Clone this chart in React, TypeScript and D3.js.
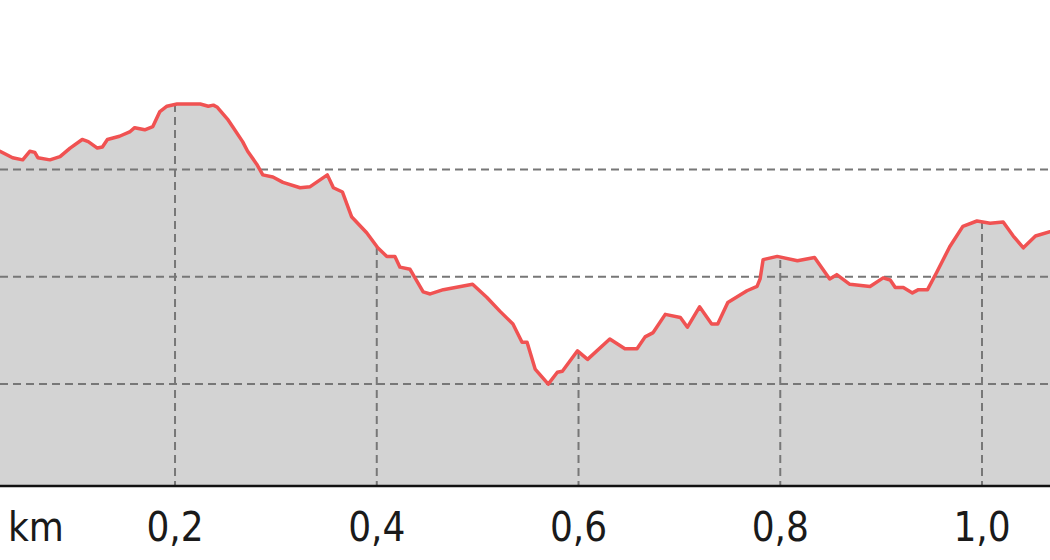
import React from "react";
import * as d3 from "d3";

// distance along route (m)
const distances = [
  26.5, 39, 49, 56, 61, 64, 76, 86, 96, 108, 114, 123, 128, 133, 145, 155, 160, 170, 178, 185,
  192, 202, 225, 233, 238, 242, 252, 257, 267, 272, 281, 287, 297, 307, 324, 334, 351, 357, 366, 375,
  390, 401, 410, 418, 423, 433, 446, 453, 466, 495, 509, 522, 535, 544, 549, 557, 570, 579, 584, 599,
  609, 631, 646, 658, 666, 674, 686, 701, 708, 720, 732, 738, 748, 767, 777, 780, 783, 797, 817, 834,
  849, 856, 869, 889, 902, 909, 914, 922, 931, 937, 946, 955, 968, 981, 995, 1008, 1021, 1031, 1041, 1053,
  1067.4,
];

// elevation (m)
const elevations = [
  441.7, 441.1, 440.9, 441.7, 441.6, 441.1, 440.9, 441.2, 442.0, 442.8, 442.6, 442.0, 442.1, 442.8, 443.1, 443.5, 443.9, 443.7, 444.0, 445.4,
  445.9, 446.1, 446.1, 445.9, 446.0, 445.8, 444.7, 444.0, 442.6, 441.7, 440.5, 439.5, 439.3, 438.8, 438.3, 438.4, 439.5, 438.3, 437.9, 435.6,
  434.1, 432.7, 431.9, 431.9, 430.9, 430.7, 428.6, 428.4, 428.8, 429.3, 428.1, 426.8, 425.6, 423.9, 423.9, 421.4, 420.0, 421.1, 421.2, 423.1,
  422.3, 424.2, 423.3, 423.3, 424.4, 424.8, 426.5, 426.2, 425.3, 427.2, 425.6, 425.6, 427.6, 428.7, 429.1, 429.8, 431.6, 431.9, 431.5, 431.8,
  429.8, 430.2, 429.3, 429.1, 429.9, 429.7, 429.0, 429.0, 428.5, 428.8, 428.8, 430.4, 432.8, 434.7, 435.2, 435.0, 435.1, 433.8, 432.7, 433.8,
  434.2,
];

const xTicks = [200, 400, 600, 800, 1000];
const xTickLabels = ["0,2", "0,4", "0,6", "0,8", "1,0"];
const yGrid = [420, 430, 440];
const unitLabel = "km";

const W = 1050;
const H = 560;

export default function App() {
  const x = d3.scaleLinear().domain([26.5, 1067.4]).range([0, W]);
  const y = d3.scaleLinear().domain([410.5, 455.8]).range([486, 0]);
  const data = distances.map((d, i) => ({ d, e: elevations[i] }));
  const area = d3
    .area<{ d: number; e: number }>()
    .x((p) => x(p.d))
    .y0(y(410.5))
    .y1((p) => y(p.e));
  const line = d3
    .line<{ d: number; e: number }>()
    .x((p) => x(p.d))
    .y((p) => y(p.e));
  const areaPath = area(data) || "";
  const font = "'DejaVu Sans Condensed', 'DejaVu Sans', sans-serif";
  return (
    <svg
      width={W}
      height={H}
      style={{ position: "absolute", left: 0, top: 0, display: "block", background: "#fff" }}
    >
      <defs>
        <clipPath id="areaClip">
          <path d={areaPath} />
        </clipPath>
      </defs>
      <path d={areaPath} fill="#d3d3d3" />
      <g clipPath="url(#areaClip)">
        {xTicks.map((t) => (
          <line
            key={t}
            x1={x(t)}
            x2={x(t)}
            y1={0}
            y2={486}
            stroke="#777"
            strokeWidth={2}
            strokeDasharray="8,5"
          />
        ))}
      </g>
      {yGrid.map((g) => (
        <line
          key={g}
          x1={0}
          x2={W}
          y1={y(g)}
          y2={y(g)}
          stroke="#777"
          strokeWidth={2}
          strokeDasharray="8,5"
        />
      ))}
      <path
        d={line(data) || ""}
        fill="none"
        stroke="#f05252"
        strokeWidth={3.5}
        strokeLinejoin="round"
        strokeLinecap="round"
      />
      <line x1={0} x2={W} y1={486} y2={486} stroke="#111" strokeWidth={2.4} />
      <text
        x={8}
        y={541}
        fontFamily={font}
        fontSize={40}
        style={{ fontStretch: "condensed" }}
        fill="#1a1a1a"
      >
        {unitLabel}
      </text>
      {xTicks.map((t, i) => (
        <text
          key={t}
          x={x(t)}
          y={541}
          textAnchor="middle"
          fontFamily={font}
          fontSize={40}
          style={{ fontStretch: "condensed" }}
          fill="#1a1a1a"
        >
          {xTickLabels[i]}
        </text>
      ))}
    </svg>
  );
}
